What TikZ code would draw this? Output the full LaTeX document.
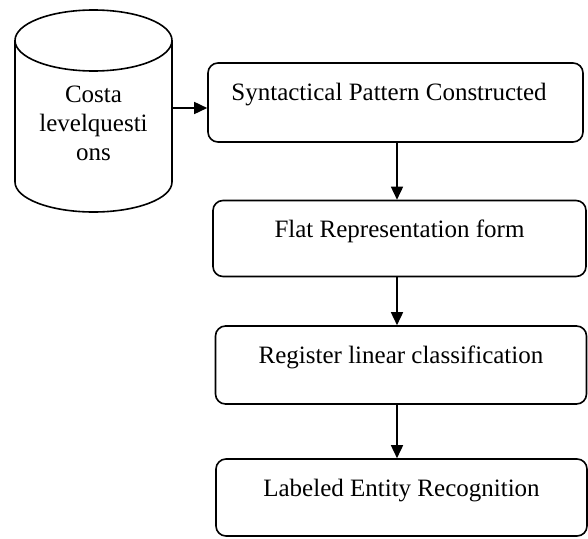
\documentclass[tikz,border=0pt]{standalone}
\usepackage{fontspec}
\setmainfont{Liberation Serif}
\usetikzlibrary{arrows.meta}
\begin{document}
\begin{tikzpicture}[x=1pt,y=-1pt,
  every node/.style={font=\fontsize{25}{29}\selectfont},
  line/.style={line width=1.6pt},
  arr/.style={line width=1.6pt,-{Triangle[length=13pt,width=12pt]}},
  stepbox/.style={draw,line width=1.6pt,rounded corners=10pt,inner xsep=0pt,inner ysep=0pt,text height=37pt}]
\fill[white] (0,0) rectangle (588,538);
\useasboundingbox (0,0) rectangle (588,538);
% cylinder
\draw[line,fill=white] (15,40.5) -- (15,182) arc[start angle=180,end angle=0,x radius=78.5,y radius=30] -- (172,40.5);
\draw[line] (93.5,40.5) ellipse[x radius=78.5,y radius=30.5];
\node[align=center] (cyl) at (93.5,123) {Costa\\levelquesti\\ons};
\coordinate (cylr) at (172,108);
% boxes
\node[stepbox,minimum width=375pt,text depth=42pt] (b1) at (395.5,102.5) {Syntactical Pattern Constructed\hspace*{13pt}};
\node[stepbox,minimum width=373pt,text depth=39pt] (b2) at (399.5,238.5) {Flat Representation form};
\node[stepbox,minimum width=371pt,text depth=41pt] (b3) at (401,365) {Register linear classification};
\node[stepbox,minimum width=371pt,text depth=40pt] (b4) at (401.5,497.5) {Labeled Entity Recognition};
\coordinate (ax) at (397,0);
\draw[arr] (cylr) -- (cylr -| b1.west);
\draw[arr] (b1.south -| ax) -- (b2.north -| ax);
\draw[arr] (b2.south -| ax) -- (b3.north -| ax);
\draw[arr] (b3.south -| ax) -- (b4.north -| ax);
\end{tikzpicture}
\end{document}
